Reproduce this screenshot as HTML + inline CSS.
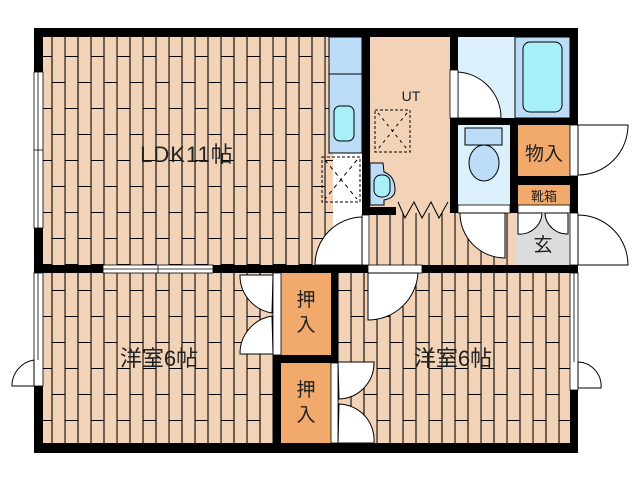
<!DOCTYPE html>
<html><head><meta charset="utf-8"><style>
html,body{margin:0;padding:0;background:#fff;width:640px;height:480px;overflow:hidden}
svg{display:block}
text{font-family:"Liberation Sans","Noto Sans CJK JP",sans-serif;fill:#222}
</style></head><body>
<svg width="640" height="480" viewBox="0 0 640 480" xmlns="http://www.w3.org/2000/svg">
<defs>
<pattern id="wood" x="38.5" y="56" width="26" height="52" patternUnits="userSpaceOnUse">
<rect width="26" height="52" fill="#f2d3b8"/>
<path d="M0.5 0V52M13.5 0V52M0 0.5H13M13 26.5H26" stroke="#000" stroke-width="1.1" fill="none"/>
</pattern>
<pattern id="wood2" x="38.5" y="56" width="13" height="52" patternUnits="userSpaceOnUse">
<rect width="13" height="52" fill="#f2d3b8"/>
<path d="M0.5 0V52" stroke="#000" stroke-width="1.1"/>
</pattern>
</defs>
<rect x="43" y="37" width="290" height="230" fill="url(#wood)"/>
<rect x="43" y="273" width="232" height="172" fill="url(#wood)"/>
<rect x="338" y="273" width="232" height="172" fill="url(#wood)"/>
<rect x="370" y="213" width="145" height="54" fill="url(#wood2)"/>
<rect x="329" y="37" width="33" height="116" fill="#bcdcf8" stroke="#000" stroke-width="1"/>
<line x1="329" y1="74" x2="362" y2="74" stroke="#000"/>
<rect x="334" y="106" width="20" height="35" rx="6" fill="#a8f0f8" stroke="#000"/>
<rect x="322" y="157" width="38" height="45" fill="none" stroke="#000" stroke-dasharray="3,2"/>
<path d="M325 160L357 199M357 160L325 199" stroke="#000" stroke-dasharray="4,4"/>
<rect x="370" y="37" width="80" height="176" fill="#f2d3b8"/>
<text x="411" y="101" font-size="14" text-anchor="middle">UT</text>
<rect x="375" y="110" width="35" height="42" fill="none" stroke="#000" stroke-dasharray="3,2"/>
<path d="M378 113L407 149M407 113L378 149" stroke="#000" stroke-dasharray="3,4"/>
<path d="M370 163H383L384 172Q395 176 395 190Q395 198 384 200V205H370Z" fill="#bcdcf8" stroke="#000"/>
<rect x="374" y="175" width="16" height="22" rx="7" fill="#a8f0f8" stroke="#000"/>
<path d="M398 202L405 218L414 202L422 218L431 202L439 218L448 202" fill="none" stroke="#000"/>
<rect x="458" y="37" width="57" height="81" fill="#dcf0fc"/>
<rect x="515" y="37" width="55" height="81" fill="#bcdcf8" stroke="#000" stroke-width="1"/>
<rect x="523" y="42" width="39" height="70" rx="7" fill="#a8f0f8" stroke="#000"/>
<path d="M458 72A46 46 0 0 1 501 118H458Z" fill="#fff" stroke="#000"/>
<rect x="458" y="125" width="52" height="82" fill="#dcf0fc"/>
<rect x="465" y="128" width="37" height="17" fill="#bcdcf8" stroke="#000"/>
<ellipse cx="484" cy="163" rx="15" ry="18" fill="#bcdcf8" stroke="#000"/>
<rect x="458" y="205" width="52" height="8" fill="#fff" stroke="#000" stroke-width="0.8"/>
<path d="M460 213H505V258A45 45 0 0 1 460 213Z" fill="#fff" stroke="#000"/>
<rect x="518" y="125" width="52" height="51" fill="#f2a96c"/>
<text x="544" y="160" font-size="19" text-anchor="middle">物入</text>
<rect x="518" y="185" width="52" height="20" fill="#f2a96c"/>
<text x="544" y="201" font-size="13" text-anchor="middle">靴箱</text>
<rect x="518" y="205" width="52" height="8" fill="#fff" stroke="#000" stroke-width="0.8"/>
<rect x="515" y="213" width="55" height="54" fill="#dcdcdc"/>
<path d="M518 213V234A22 22 0 0 0 542 213ZM568 213V234A22 22 0 0 1 545 213Z" fill="#fff" stroke="#000"/>
<text x="543" y="251" font-size="19" text-anchor="middle">玄</text>
<g fill="#000">
<rect x="34" y="28" width="544" height="9"/>
<rect x="34" y="28" width="9" height="425"/>
<rect x="34" y="443" width="544" height="10"/>
<rect x="570" y="28" width="8" height="425"/>
<rect x="34" y="265" width="536" height="8"/>
<rect x="362" y="37" width="8" height="178"/>
<rect x="362" y="207" width="34" height="8"/>
<rect x="450" y="37" width="8" height="176"/>
<rect x="450" y="118" width="128" height="7"/>
<rect x="510" y="125" width="8" height="88"/>
<rect x="518" y="176" width="52" height="9"/>
<rect x="331" y="273" width="7" height="170"/>
<rect x="273" y="355" width="65" height="8"/>
<rect x="273" y="355" width="8" height="88"/>
</g>
<rect x="281" y="273" width="50" height="82" fill="#f2a96c"/>
<rect x="281" y="363" width="50" height="80" fill="#f2a96c"/>
<text x="306" y="306" font-size="19" text-anchor="middle">押</text>
<text x="306" y="331" font-size="19" text-anchor="middle">入</text>
<text x="306" y="396" font-size="19" text-anchor="middle">押</text>
<text x="306" y="421" font-size="19" text-anchor="middle">入</text>
<rect x="273" y="273" width="8" height="82" fill="#fff" stroke="#000" stroke-width="0.8"/>
<path d="M273 275H240A38 38 0 0 0 272 313ZM273 354H240A38 38 0 0 1 272 316Z" fill="#fff" stroke="#000"/>
<rect x="331" y="363" width="7" height="80" fill="#fff" stroke="#000" stroke-width="0.8"/>
<path d="M338 362H374A36 36 0 0 1 339 399ZM338 443H374A36 36 0 0 0 339 404Z" fill="#fff" stroke="#000"/>
<rect x="103" y="265" width="110" height="8" fill="#fff" stroke="#000" stroke-width="0.8"/>
<line x1="103" y1="269" x2="213" y2="269" stroke="#000" stroke-width="0.8"/>
<line x1="158" y1="265" x2="158" y2="273" stroke="#000" stroke-width="0.8"/>
<rect x="368" y="265" width="54" height="8" fill="#fff" stroke="#000" stroke-width="0.8"/>
<path d="M368 273H418A50 50 0 0 1 368 320Z" fill="#fff" stroke="#000"/>
<rect x="362" y="215" width="7" height="50" fill="#fff" stroke="#000" stroke-width="0.8"/>
<path d="M362 217V265H315A48 48 0 0 1 362 217Z" fill="#fff" stroke="#000"/>
<rect x="450" y="70" width="8" height="48" fill="#fff" stroke="#000" stroke-width="0.8"/>
<rect x="34" y="72" width="9" height="156" fill="#fff" stroke="#000" stroke-width="0.8"/>
<line x1="38" y1="72" x2="38" y2="228" stroke="#000" stroke-width="0.8"/>
<line x1="34" y1="150" x2="43" y2="150" stroke="#000" stroke-width="0.8"/>
<rect x="34" y="273" width="9" height="113" fill="#fff" stroke="#000" stroke-width="0.8"/>
<line x1="38" y1="273" x2="38" y2="360" stroke="#000" stroke-width="0.8"/>
<path d="M34 360A26 26 0 0 0 12 386H34Z" fill="#fff" stroke="#000"/>
<rect x="570" y="273" width="8" height="117" fill="#fff" stroke="#000" stroke-width="0.8"/>
<line x1="574" y1="273" x2="574" y2="362" stroke="#000" stroke-width="0.8"/>
<path d="M578 362A24 24 0 0 1 601 388H578Z" fill="#fff" stroke="#000"/>
<rect x="570" y="125" width="8" height="51" fill="#fff" stroke="#000" stroke-width="0.8"/>
<path d="M578 125H628A50 50 0 0 1 578 175Z" fill="#fff" stroke="#000"/>
<rect x="570" y="213" width="8" height="52" fill="#fff" stroke="#000" stroke-width="0.8"/>
<path d="M578 215A50 50 0 0 1 628 265H578Z" fill="#fff" stroke="#000"/>
<text x="187" y="162" font-size="22" text-anchor="middle" letter-spacing="1">LDK11帖</text>
<text x="159" y="366" font-size="22" text-anchor="middle">洋室6帖</text>
<text x="453" y="366" font-size="22" text-anchor="middle">洋室6帖</text>
</svg>
</body></html>
